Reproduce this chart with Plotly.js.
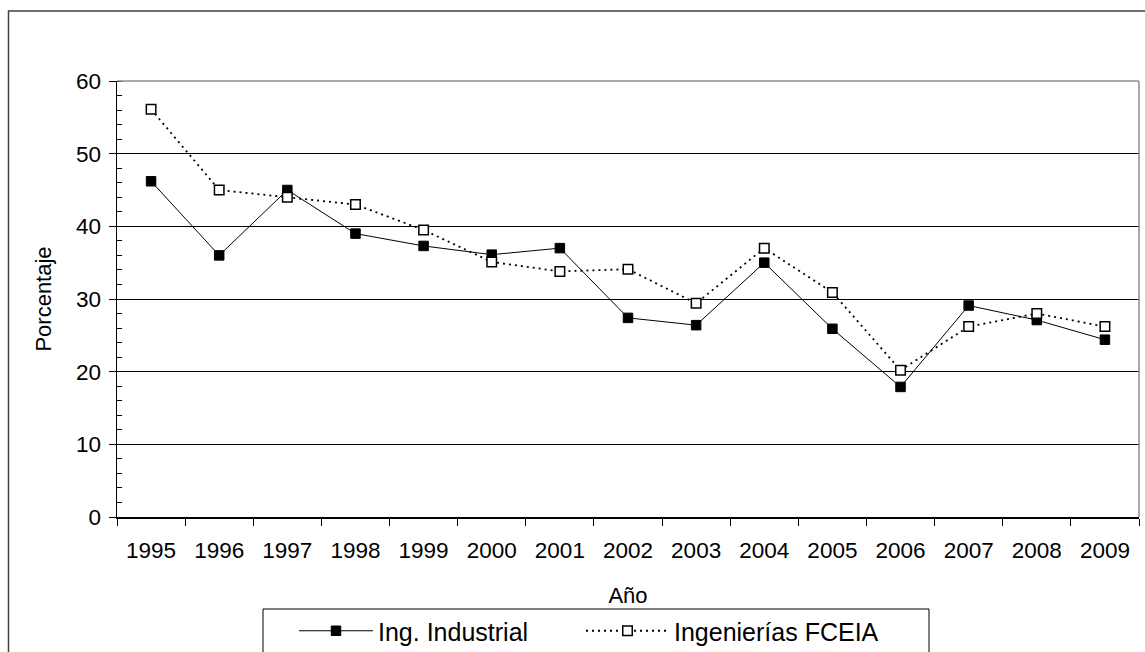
<!DOCTYPE html>
<html>
<head>
<meta charset="utf-8">
<script src="https://cdn.plot.ly/plotly-3.0.1.min.js"></script>
<style>
  html, body { margin: 0; padding: 0; background: #ffffff; }
  #chart { width: 1145px; height: 652px; }
</style>
</head>
<body>
<div id="chart"></div>
<script>
// ---- Data ----
const years = ['1995','1996','1997','1998','1999','2000','2001','2002','2003','2004','2005','2006','2007','2008','2009'];
const ingIndustrial = [46.2, 36.0, 45.0, 39.0, 37.3, 36.1, 37.0, 27.4, 26.4, 35.0, 25.9, 17.9, 29.1, 27.1, 24.4];
const ingFCEIA = [56.1, 45.0, 44.0, 43.0, 39.5, 35.1, 33.8, 34.1, 29.4, 37.0, 30.9, 20.2, 26.2, 28.0, 26.2];
const seriesNames = ['Ing. Industrial', 'Ingenierías FCEIA'];
const yTitle = 'Porcentaje';
const xTitle = 'Año';

// ---- Layout geometry (pixels) ----
const W = 1145, H = 652;
const plotL = 117, plotR = 1139, plotT = 81, plotB = 517;
const pw = plotR - plotL, ph = plotB - plotT;
const px = x => (x - plotL) / pw;
const py = y => (plotB - y) / ph;

const FONT = 'Liberation Sans, Arial, sans-serif';

const traces = [
  {
    x: years, y: ingIndustrial, name: seriesNames[0], legend: 'legend',
    type: 'scatter', mode: 'lines+markers',
    line: { color: '#000000', width: 1 },
    marker: { symbol: 'square', size: 9.5, color: '#000000', line: { color: '#000000', width: 1 } }
  },
  {
    x: years, y: ingFCEIA, name: seriesNames[1], legend: 'legend2',
    type: 'scatter', mode: 'lines+markers',
    line: { color: '#000000', width: 1.8, dash: '2px,4px' },
    marker: { symbol: 'square', size: 9.5, color: '#ffffff', line: { color: '#000000', width: 1.5 } }
  }
];

const legendBase = {
  orientation: 'h',
  xref: 'container', xanchor: 'left',
  yref: 'container', y: 1 - 608 / H, yanchor: 'top',
  bgcolor: 'rgba(0,0,0,0)',
  borderwidth: 0,
  font: { family: FONT, size: 25, color: '#000000' },
  itemclick: false, itemdoubleclick: false
};

const layout = {
  width: W, height: H,
  margin: { l: plotL, r: W - plotR, t: plotT, b: H - plotB, pad: 0 },
  paper_bgcolor: '#ffffff',
  plot_bgcolor: '#ffffff',
  font: { family: FONT, color: '#000000', size: 22 },
  showlegend: true,
  legend: Object.assign({}, legendBase, { x: 294 / W, itemwidth: 74 }),
  legend2: Object.assign({}, legendBase, { x: 581 / W, itemwidth: 83 }),
  xaxis: {
    type: 'category',
    range: [-0.5, years.length - 0.5],
    tickson: 'boundaries',
    ticks: 'outside', ticklen: 7, tickwidth: 1, tickcolor: '#000000',
    showline: true, linecolor: '#000000', linewidth: 1.5,
    showgrid: false, zeroline: false,
    ticklabelstandoff: 12,
    tickfont: { family: FONT, size: 22.5, color: '#000000' },
    title: { text: xTitle, font: { family: FONT, size: 22, color: '#000000' }, standoff: 26 },
    automargin: false,
    fixedrange: true
  },
  yaxis: {
    range: [0, 60], dtick: 10, tick0: 0,
    ticks: 'outside', ticklen: 7, tickwidth: 1, tickcolor: '#000000',
    showline: true, linecolor: '#000000', linewidth: 1.5,
    showgrid: true, gridcolor: '#000000', gridwidth: 1,
    zeroline: false,
    minor: { dtick: 2, ticks: 'inside', ticklen: 5, tickwidth: 1, tickcolor: '#000000', showgrid: false },
    ticklabelstandoff: 3,
    tickfont: { family: FONT, size: 22.5, color: '#000000' },
    title: { text: yTitle, font: { family: FONT, size: 22, color: '#000000' }, standoff: 18 },
    automargin: false,
    fixedrange: true
  },
  shapes: [
    // outer chart frame
    { type: 'rect', xref: 'paper', yref: 'paper', x0: px(8.5), x1: px(1152), y0: py(665), y1: py(11),
      line: { color: '#404040', width: 1.5 }, fillcolor: 'rgba(0,0,0,0)', layer: 'below' },
    // plot area border (top and right), gray
    { type: 'line', xref: 'paper', yref: 'paper', x0: 0, x1: 1, y0: 1, y1: 1,
      line: { color: '#8c8c8c', width: 1.5 }, layer: 'above' },
    { type: 'line', xref: 'paper', yref: 'paper', x0: 1, x1: 1, y0: 0, y1: 1,
      line: { color: '#8c8c8c', width: 1.5 }, layer: 'above' },
    // legend box
    { type: 'rect', xref: 'paper', yref: 'paper', x0: px(263), x1: px(929), y0: py(665), y1: py(609),
      line: { color: '#000000', width: 1 }, fillcolor: 'rgba(0,0,0,0)', layer: 'below' }
  ]
};

Plotly.newPlot('chart', traces, layout, { displayModeBar: false, staticPlot: true });
</script>
</body>
</html>
